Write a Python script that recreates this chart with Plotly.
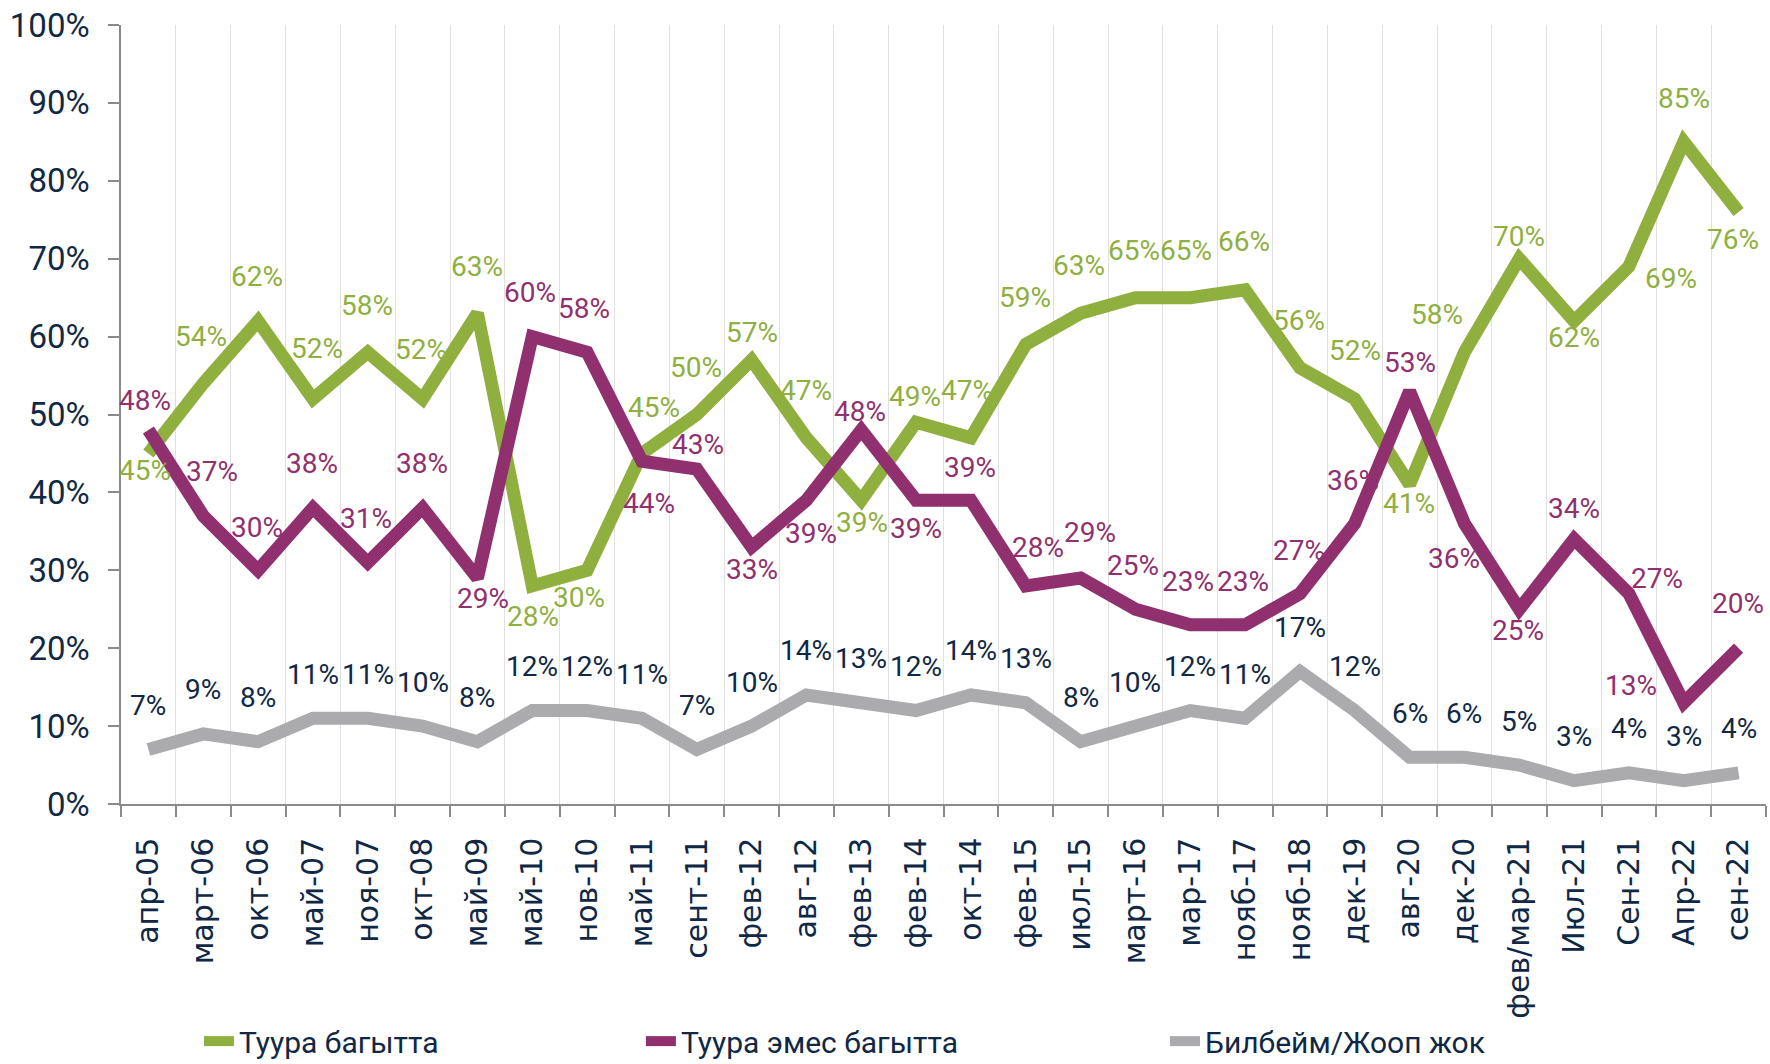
import plotly.graph_objects as go

categories = ["апр-05", "март-06", "окт-06", "май-07", "ноя-07", "окт-08", "май-09", "май-10",
              "нов-10", "май-11", "сент-11", "фев-12", "авг-12", "фев-13", "фев-14", "окт-14",
              "фев-15", "июл-15", "март-16", "мар-17", "нояб-17", "нояб-18", "дек-19", "авг-20",
              "дек-20", "фев/мар-21", "Июл-21", "Сен-21", "Апр-22", "сен-22"]

right_dir = [45, 54, 62, 52, 58, 52, 63, 28, 30, 45, 50, 57, 47, 39, 49, 47, 59, 63, 65, 65,
             66, 56, 52, 41, 58, 70, 62, 69, 85, 76]
wrong_dir = [48, 37, 30, 38, 31, 38, 29, 60, 58, 44, 43, 33, 39, 48, 39, 39, 28, 29, 25, 23,
             23, 27, 36, 53, 36, 25, 34, 27, 13, 20]
dont_know = [7, 9, 8, 11, 11, 10, 8, 12, 12, 11, 7, 10, 14, 13, 12, 14, 13, 8, 10, 12,
             11, 17, 12, 6, 6, 5, 3, 4, 3, 4]

series_names = ["Туура багытта", "Туура эмес багытта", "Билбейм/Жооп жок"]
y_ticks = [0, 10, 20, 30, 40, 50, 60, 70, 80, 90, 100]
y_ticktext = [f"{t}%" for t in y_ticks]

# label offsets in pixels (dx, dy up) – styling only
green_off = [(-3, -17), (-2, 47), (-1, 45), (4, 50), (-1, 47), (-2, 49), (0, 47), (1, -31),
             (-8, -27), (12, 46), (-1, 47), (0, 27), (0, 47), (1, -22), (-1, 26), (-4, 47),
             (-1, 47), (-2, 48), (-1, 47), (-4, 47), (-1, 48), (-1, 47), (0, 48), (-1, -19),
             (-27, 38), (0, 22), (0, -16), (42, -12), (0, 43), (-6, -28)]
purple_off = [(-3, 30), (9, 44), (-1, 43), (-1, 44), (-2, 44), (-1, 44), (6, -20), (-2, 44),
              (-3, 44), (7, -42), (1, 25), (0, -23), (5, -33), (-1, 19), (0, -28), (-1, 33),
              (12, 38), (9, 46), (-2, 44), (-2, 43), (-2, 43), (-1, 43), (-2, 43), (0, 29),
              (-10, -35), (-1, -21), (0, 31), (28, 15), (-53, 17), (-1, 45)]
gray_off = [(0, 44)] * len(dont_know)

GREEN = "#8FAF3F"
PURPLE = "#91306F"
GRAY = "#ABABAD"
NAVY = "#102846"
AXIS = "#8A8A8A"
LBL = "Roboto, sans-serif"

xs = list(range(len(categories)))
fig = go.Figure()

for name, vals, col, leg in [(series_names[0], right_dir, GREEN, "legend"),
                             (series_names[1], wrong_dir, PURPLE, "legend2"),
                             (series_names[2], dont_know, GRAY, "legend3")]:
    fig.add_trace(go.Scatter(x=xs, y=vals, mode="lines", name=name, legend=leg,
                             line=dict(color=col, width=13), hoverinfo="skip"))

annotations = []
for vals, offs, col in [(right_dir, green_off, GREEN), (wrong_dir, purple_off, PURPLE),
                        (dont_know, gray_off, NAVY)]:
    for i, v in enumerate(vals):
        dx, dy = offs[i]
        annotations.append(dict(x=i, y=v, xref="x", yref="y", text=f"{v}%", showarrow=False,
                                xshift=dx, yshift=dy,
                                font=dict(family=LBL, size=28, color=col)))

n = len(categories)
leg_common = dict(xref="container", yref="container", y=0.0215, xanchor="left",
                  yanchor="middle", orientation="h",
                  font=dict(family=LBL, size=30, color=NAVY), bgcolor="rgba(0,0,0,0)")
fig.update_layout(
    width=1770, height=1064,
    margin=dict(l=121, r=4, t=25, b=260, autoexpand=False),
    plot_bgcolor="white", paper_bgcolor="white",
    annotations=annotations,
    xaxis=dict(
        range=[-0.5, n - 0.5], tickmode="array", tickvals=xs, ticktext=categories,
        tickangle=-90, ticks="", showgrid=False, zeroline=False, automargin=False,
        showline=True, linecolor=AXIS, linewidth=1.5,
        tickfont=dict(family="DejaVu Sans", size=30, color=NAVY),
        ticklabelstandoff=20,
        minor=dict(tickmode="array", tickvals=[i - 0.5 for i in range(n + 1)],
                   ticks="outside", ticklen=11, tickcolor=AXIS, tickwidth=1.5,
                   showgrid=True, gridcolor="#E0E0E0", gridwidth=1.3),
    ),
    yaxis=dict(
        range=[0, 100], tickmode="array", tickvals=y_ticks, ticktext=y_ticktext,
        showgrid=False, zeroline=False, showline=True, linecolor=AXIS, linewidth=1.5,
        ticks="outside", ticklen=11, tickcolor=AXIS, tickwidth=1.5, automargin=False,
        tickfont=dict(family=LBL, size=33, color=NAVY),
        ticklabelstandoff=12,
    ),
    legend=dict(x=0.1124, **leg_common),
    legend2=dict(x=0.3621, **leg_common),
    legend3=dict(x=0.6582, **leg_common),
    showlegend=True,
)

fig.write_html("out.html", config={"displayModeBar": False},
               post_script="document.body.style.margin='0';document.body.style.overflow='hidden';")
